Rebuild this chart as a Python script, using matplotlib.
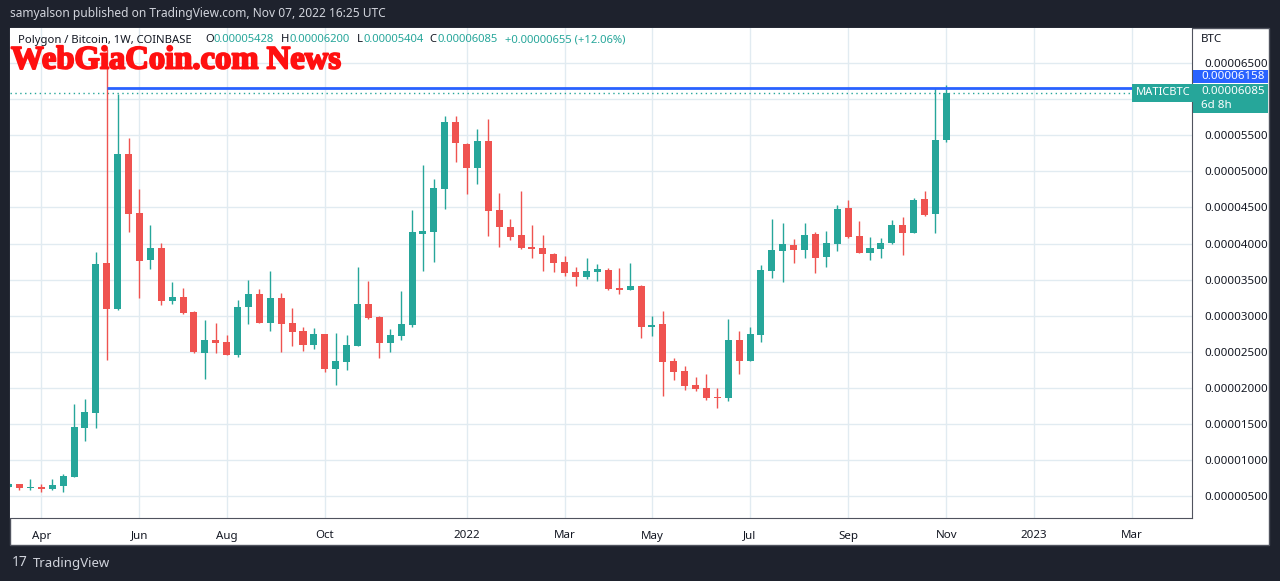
import pandas as pd
import matplotlib.pyplot as plt
import matplotlib.dates as mdates
import matplotlib.patheffects as pe
from matplotlib.patches import Rectangle
from matplotlib.transforms import blended_transform_factory

# weekly MATIC/BTC candles, prices in satoshi (1e-8 BTC)
weeks = pd.date_range("2021-03-15", periods=87, freq="W-MON")
opens = [635, 670, 620, 633, 600, 642, 772, 1445, 1658, 3730, 3097, 5234, 4416, 3775, 3932,
         3207, 3253, 3050, 2488, 2663, 2635, 2460, 3115, 3300, 2903, 3245, 2898, 2788, 2599,
         2746, 2266, 2358, 2585, 3161, 2982, 2622, 2718, 2875, 4135, 4163, 4758, 5685, 5380,
         5048, 5421, 4463, 4227, 4117, 3950, 3937, 3854, 3743, 3606, 3537, 3606, 3634, 3384,
         3356, 3412, 2844, 2885, 2372, 2234, 2041, 1999, 1875, 1861, 2664, 2373, 2733, 3620,
         3897, 3980, 3911, 4132, 3814, 3994, 4492, 4104, 3869, 3924, 4007, 4256, 4145, 4616,
         4408, 5428]
highs = [680, 675, 739, 670, 739, 809, 1778, 1847, 3882, 6700, 6070, 5460, 4754, 4255, 4006,
         3466, 3383, 3064, 2940, 2894, 2728, 3217, 3494, 3369, 3618, 3314, 3106, 2843, 2829,
         2750, 2760, 2732, 3674, 3480, 2990, 2815, 3342, 4467, 5086, 4897, 5768, 5768, 5394,
         5587, 5726, 4698, 4338, 4726, 4255, 4117, 3868, 3826, 3675, 3798, 3716, 3661, 3661,
         3730, 3420, 2996, 3065, 2414, 2303, 2151, 2193, 1999, 2955, 2789, 2844, 3702, 4340,
         4284, 4063, 4284, 4160, 4174, 4533, 4603, 4312, 4090, 4076, 4326, 4367, 4630, 4727,
         6158, 6200]
lows = [625, 586, 586, 559, 586, 559, 765, 1265, 1445, 2391, 3083, 4158, 3249, 3646, 3147,
        3161, 3030, 2490, 2123, 2488, 2450, 2432, 2889, 2900, 2792, 2497, 2580, 2515, 2538,
        2225, 2045, 2252, 2580, 2960, 2414, 2497, 2663, 2848, 3620, 3743, 4476, 5128, 4689,
        4823, 4103, 3950, 4048, 3923, 3798, 3620, 3606, 3550, 3412, 3509, 3481, 3356, 3301,
        3350, 2692, 2719, 1888, 2109, 1971, 1957, 1833, 1723, 1820, 2193, 2373, 2636, 3523,
        3467, 3730, 3800, 3592, 3675, 3897, 4076, 3869, 3772, 3800, 3994, 3842, 4145, 4381,
        4145, 5404]
closes = [665, 618, 628, 605, 651, 781, 1460, 1667, 3716, 3097, 5234, 4412, 3761, 3932, 3207,
          3253, 3041, 2497, 2663, 2626, 2460, 3120, 3300, 2903, 3245, 2889, 2778, 2599, 2746,
          2266, 2372, 2594, 3161, 2968, 2622, 2732, 2885, 4163, 4172, 4772, 5685, 5394, 5048,
          5421, 4449, 4227, 4089, 3937, 3923, 3854, 3729, 3591, 3537, 3620, 3648, 3370, 3356,
          3412, 2844, 2871, 2359, 2220, 2027, 1985, 1861, 1861, 2664, 2373, 2747, 3633, 3911,
          3994, 3911, 4118, 3800, 4007, 4478, 4090, 3869, 3938, 4007, 4256, 4145, 4602, 4395,
          5428, 6085]
ray_price = 6158
last_price = 6085
ray_start = pd.Timestamp("2021-05-17")

price_ticks = [500, 1000, 1500, 2000, 2500, 3000, 3500, 4000, 4500, 5000, 5500, 6000, 6500]
month_dates = pd.to_datetime(["2021-04-05", "2021-06-07", "2021-08-02", "2021-10-04",
                              "2022-01-03", "2022-03-07", "2022-05-02", "2022-07-04",
                              "2022-09-05", "2022-11-07", "2023-01-02", "2023-03-06"])
month_labels = ["Apr", "Jun", "Aug", "Oct", "2022", "Mar", "May", "Jul", "Sep", "Nov",
                "2023", "Mar"]

up_col = "#26a69a"
down_col = "#ef5350"
dark = "#1e222d"
txt = "#131722"
plt.rcParams["font.family"] = ["Noto Sans", "DejaVu Sans"]

W, H = 1280, 581
fig = plt.figure(figsize=(12.8, 5.81), dpi=100, facecolor=dark)


def fx(x):
    return x / W


def fy(y):
    return 1 - y / H


# white chart panel
fig.patches.append(Rectangle((fx(10), fy(545)), fx(1269) - fx(10), fy(28) - fy(545),
                             transform=fig.transFigure, facecolor="white",
                             edgecolor="#50535e", lw=1, zorder=-5))

ax = fig.add_axes([fx(10), fy(518), fx(1192) - fx(10), fy(28) - fy(518)])
ax.set_facecolor("white")

colors = [up_col if c >= o else down_col for o, c in zip(opens, closes)]
bottoms = [min(o, c) for o, c in zip(opens, closes)]
heights = [max(abs(c - o), 12) for o, c in zip(opens, closes)]
xd = mdates.date2num(weeks)

ax.vlines(xd, lows, highs, colors=colors, lw=1, zorder=3)
ax.bar(xd, heights, bottom=bottoms, width=4.5, color=colors, zorder=4)

x0 = mdates.date2num(pd.Timestamp("2021-04-05"))
week_px = 10.904
ax.set_xlim(x0 + 7 * (10 - 41.3) / week_px, x0 + 7 * (1192 - 41.3) / week_px)
ax.set_ylim((532.4 - 518) / 0.07222, (532.4 - 28) / 0.07222)

ax.set_xticks(mdates.date2num(month_dates))
ax.set_xticklabels(month_labels)
ax.set_yticks(price_ticks)
ax.yaxis.tick_right()
ax.set_yticklabels(["" if v == 6000 else f"{v * 1e-8:.8f}" for v in price_ticks])
ax.tick_params(length=0, labelsize=8.3, colors=txt)
ax.tick_params(axis="x", pad=9)
ax.tick_params(axis="y", pad=9)
ax.grid(True, color="#e1ebf1", lw=1, zorder=0)
ax.set_axisbelow(True)
for side in ["top", "left"]:
    ax.spines[side].set_visible(False)
for side in ["right", "bottom"]:
    ax.spines[side].set_color("#50535e")

# horizontal ray and last price line
ax.hlines(ray_price, mdates.date2num(ray_start), ax.get_xlim()[1], color="#2962ff", lw=2, zorder=5)
ax.axhline(last_price, color=up_col, lw=1, ls=(0, (1, 2.5)), zorder=2)
tr = blended_transform_factory(ax.transAxes, ax.transData)
ax.text(0.9985, last_price, "MATICBTC", transform=tr, ha="right", va="center", fontsize=8,
        color="white", zorder=6,
        bbox=dict(boxstyle="square,pad=0.3", facecolor=up_col, edgecolor="none"))

# price axis labels
fig.text(fx(1201), fy(40), "BTC", fontsize=8.3, color=txt, va="center")
fig.patches.append(Rectangle((fx(1193), fy(83)), fx(1268) - fx(1193), fy(70) - fy(83),
                             transform=fig.transFigure, facecolor="#2962ff", zorder=5))
fig.text(fx(1201), fy(76.5), f"{ray_price * 1e-8:.8f}", fontsize=8.3, color="white",
         va="center", zorder=6)
fig.patches.append(Rectangle((fx(1193), fy(113)), fx(1268) - fx(1193), fy(84) - fy(113),
                             transform=fig.transFigure, facecolor=up_col, zorder=5))
fig.text(fx(1201), fy(92), f"{last_price * 1e-8:.8f}", fontsize=8.3, color="white",
         va="center", zorder=6)
fig.text(fx(1201), fy(105), "6d 8h", fontsize=8.3, color="white", va="center", zorder=6)

# header texts
fig.text(fx(10), fy(14), "samyalson published on TradingView.com, Nov 07, 2022 16:25 UTC",
         fontsize=8.6, color="#d1d4dc", va="center")
parts = [(18, "Polygon / Bitcoin, 1W, COINBASE", txt), (205, "O", txt),
         (213, "0.00005428", up_col), (281, "H", txt), (289, "0.00006200", up_col),
         (357, "L", txt), (364, "0.00005404", up_col), (429, "C", txt),
         (437, "0.00006085", up_col), (505, "+0.00000655 (+12.06%)", up_col)]
for x, s, c in parts:
    fig.text(fx(x), fy(40), s, fontsize=8.1, color=c, va="center", zorder=6)

fig.text(fx(11), fy(60), "WebGiaCoin.com News", fontsize=23.5, color="#ff1010",
         fontweight="bold", family="Liberation Serif", va="center", zorder=7,
         path_effects=[pe.withStroke(linewidth=1.4, foreground="#ff1010")])

# footer
fig.text(fx(12), fy(563), "17", fontsize=10, fontweight="bold", color="#d1d4dc", va="center")
fig.text(fx(33), fy(563), "TradingView", fontsize=9.5, color="#d1d4dc", va="center")

fig.savefig("out.png", dpi=100, facecolor=dark)
